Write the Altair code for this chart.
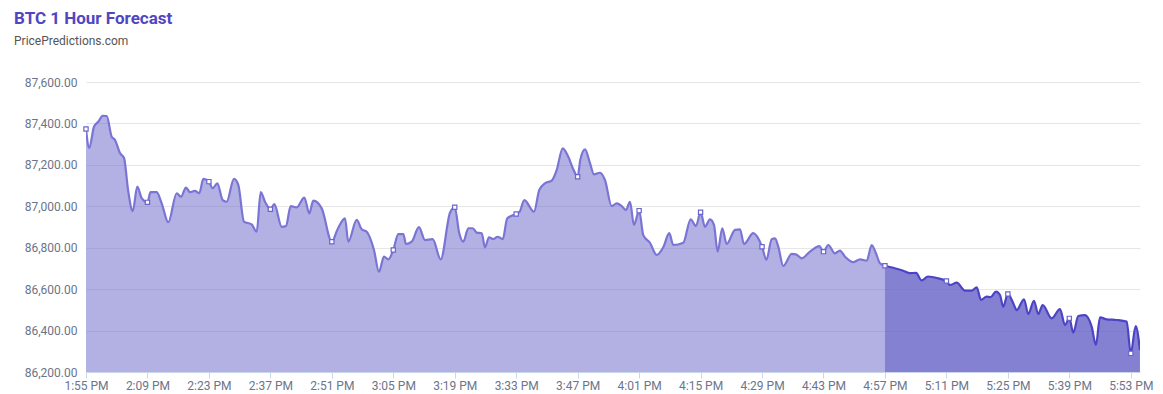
import altair as alt
import pandas as pd

# minutes after 1:55 PM and BTC price
minutes = [
    0, 0.75, 1.82, 2.80, 3.80, 4.72, 5.85, 6.61, 7.74, 8.66, 9.64, 10.64, 11.69, 12.69, 14,
    14.7, 16.1, 17.24, 18.75, 20.66, 21.64, 22.78, 23.69, 24.83, 25.81, 26.72, 28, 28.86,
    29.91, 31.14, 32.05, 33.71, 34.69, 35.99, 37.74, 38.88, 39.80, 40.77, 42, 42.9, 44.58,
    45.56, 46.63, 48.0, 49.73, 50.87, 51.78, 53.69, 56, 57.24, 59.0, 59.75, 61.66, 62.8,
    63.94, 65.6, 66.74, 67.88, 68.86, 70, 71.14, 72.28, 72.89, 74.19, 75.85, 77.22, 78.97,
    80.8, 82.92, 84, 85.03, 85.95, 87.09, 88.09, 89.0, 90.14, 90.89, 91.8, 92.78, 93.78,
    94.92, 95.97, 98, 98.8, 99.84, 102.05, 103.26, 104.56, 106.08, 107.22, 108.59, 109.86,
    111.0, 112, 112.6, 113.67, 114.81, 115.72, 117.08, 118.22, 119.75, 120.89, 122.03,
    123.0, 123.92, 124.83, 126, 126.95, 128.47, 130.0, 131.5, 132.87, 133.78, 136.06,
    137.74, 138.95, 140, 141.0, 142.14, 143.05, 143.9, 144.94, 145.95, 147.84, 148.97,
    149.89, 152.0, 154, 155.0, 156.2, 156.95, 157.7, 158.84, 160.75, 161.73, 163.03,
    164.92, 167.04, 168, 169.09, 170.62, 171.75, 172.89, 174.78, 176.31, 177.84, 178.98,
    179.95, 180.87, 182,
    183.89, 186.17, 187.7, 189.07, 190.36, 191.8, 194.15, 196, 196.81, 198.34, 200.23,
    201.76, 202.9, 203.87, 205.17, 206.08, 207.29, 208.2, 208.95, 210, 211.23, 212.0,
    213.67, 214.65, 215.95, 216.92, 217.93, 219.98, 221.87, 223.01, 224, 224.9, 226.04,
    227.56, 229.09, 230.07, 230.98, 232.51, 234.78, 237.06, 238, 239.11, 240.09,
]
prices = [
    87373, 87282, 87384, 87408, 87437, 87436, 87336, 87320, 87257, 87233, 87070, 86977, 87095, 87039, 87019,
    87068, 87068, 87014, 86923, 87063, 87046, 87090, 87068, 87074, 87063, 87132, 87119, 87087,
    87111, 87030, 87022, 87132, 87103, 86926, 86913, 86877, 87068, 87022, 86986, 87010, 86901,
    86905, 87001, 86995, 87042, 86966, 87027, 86990, 86829, 86886, 86942, 86829, 86934, 86889,
    86877, 86789, 86684, 86757, 86744, 86789, 86866, 86866, 86818, 86829, 86899, 86837, 86841,
    86744, 86969, 86995, 86870, 86829, 86894, 86894, 86873, 86870, 86802, 86850, 86842, 86853,
    86841, 86942, 86963, 86974, 87030, 86974, 87079, 87111, 87124, 87175, 87280, 87239,
    87179, 87143, 87224, 87275, 87208, 87154, 87162, 87127, 87001, 87014, 87001,
    86982, 87022, 86910, 86979, 86861, 86824, 86765, 86802, 86870, 86813, 86824,
    86937, 86905, 86971, 86901, 86937, 86910, 86781, 86894, 86818, 86886, 86889,
    86818, 86870, 86805, 86742, 86841, 86845, 86805, 86712, 86770, 86768, 86749,
    86781, 86808, 86781, 86813, 86773, 86786, 86757, 86730, 86744, 86737, 86813,
    86773, 86725, 86713,
    86703, 86689, 86677, 86679, 86642, 86661, 86652, 86639, 86620, 86631, 86593,
    86593, 86609, 86548, 86564, 86561, 86588, 86572, 86515, 86577, 86532, 86499,
    86551, 86480, 86544, 86480, 86523, 86459, 86504, 86427, 86459, 86390, 86470,
    86475, 86419, 86330, 86464, 86454, 86451, 86443, 86290, 86422, 86306,
]
forecast_start = 182  # 4:57 PM
y_ticks = [86200, 86400, 86600, 86800, 87000, 87200, 87400, 87600]
tick_minutes = list(range(0, 239, 14))

start = pd.Timestamp("2024-01-01 13:55:00")
df = pd.DataFrame({"m": minutes, "price": prices})
df["time"] = start + pd.to_timedelta(df["m"], unit="m")
hist = df[df["m"] <= forecast_start]
fc = df[df["m"] >= forecast_start]
marks = df[df["m"].isin(tick_minutes)]

def dt(mins):
    t = start + pd.Timedelta(minutes=mins)
    return alt.DateTime(year=t.year, month=t.month, date=t.day,
                        hours=t.hour, minutes=t.minute, seconds=t.second)

xscale = alt.Scale(domain=[dt(0), dt(240.1)], nice=False)
yscale = alt.Scale(domain=[86200, 87600], zero=False, nice=False)

x = alt.X("time:T", scale=xscale, title=None,
          axis=alt.Axis(values=[dt(m) for m in tick_minutes], format="%-I:%M %p",
                        labelColor="#6b7489", labelFontSize=12, labelFont="Roboto",
                        tickColor="#ccd6eb", tickSize=6, domainColor="#ccd6eb",
                        labelPadding=2, grid=False, labelOverlap=False, labelFlush=False))
y = alt.Y("price:Q", scale=yscale, title=None,
          axis=alt.Axis(values=y_ticks, format=",.2f", labelColor="#6b7489",
                        labelFontSize=12, labelFont="Roboto", ticks=False, domain=False,
                        labelPadding=9, gridColor="#e6e6e6"))

base_color = "#6761c7"
hist_area = alt.Chart(hist).mark_area(color=base_color, opacity=0.5, interpolate="monotone", clip=True).encode(x=x, y=y)
hist_line = alt.Chart(hist).mark_line(color="#7a74d4", strokeWidth=2.2, interpolate="monotone", clip=True).encode(x=x, y=y)
fc_area = alt.Chart(fc).mark_area(color=base_color, opacity=0.8, interpolate="monotone", clip=True).encode(x=x, y=y)
fc_line = alt.Chart(fc).mark_line(color="#4c44c4", strokeWidth=2.2, interpolate="monotone", clip=True).encode(x=x, y=y)
pts = alt.Chart(marks).mark_point(shape="square", size=18, filled=True, fill="white",
                                  stroke="#6a64cf", strokeWidth=1.2, opacity=1).encode(x=x, y=y)

chart = alt.layer(hist_area, fc_area, hist_line, fc_line, pts).properties(
    width=1054, height=290,
    autosize=alt.AutoSizeParams(type="none"),
    padding={"left": 86, "top": 82, "right": 23, "bottom": 22},
    title=alt.TitleParams(
        text="BTC 1 Hour Forecast", subtitle="PricePredictions.com",
        anchor="start", frame="group", dx=-72, offset=28,
        font="Roboto", fontSize=17, fontWeight="bold", color="#5046c2",
        subtitleFont="Roboto", subtitleFontSize=12, subtitleColor="#555555",
        subtitlePadding=8,
    ),
).configure_view(stroke=None)

chart.save("out.html", embed_options={"renderer": "svg", "actions": False})
